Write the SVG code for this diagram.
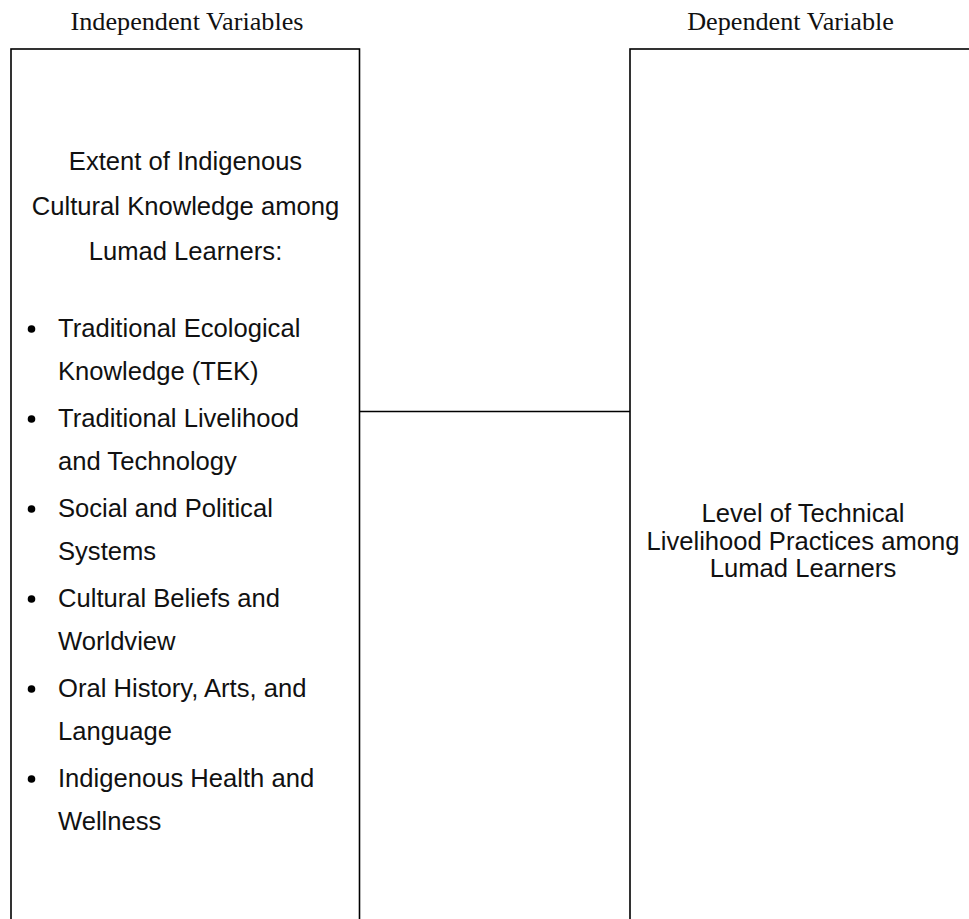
<svg xmlns="http://www.w3.org/2000/svg" width="969" height="919" viewBox="0 0 969 919">
<style>
.box{fill:#fff;stroke:#000;stroke-width:1.6}
.conn{stroke:#000;stroke-width:1.6;fill:none}
.title{font-family:"Liberation Serif","Times New Roman",serif;font-size:26.2px;fill:#111;text-anchor:middle}
.t{font-family:"Liberation Sans",Arial,sans-serif;font-size:25.6px;fill:#111}
.c{text-anchor:middle}
.dot{fill:#000}
</style>
<rect width="969" height="919" fill="#fff"/>
<text class="title" x="187" y="29.5">Independent Variables</text>
<text class="title" x="790.5" y="29.5">Dependent Variable</text>
<g id="connectors">
<line class="conn" x1="359.5" y1="411.5" x2="630" y2="411.5"/>
</g>
<g id="independent">
<rect class="box" x="11" y="49" width="348.5" height="900"/>
<text class="t c" x="185.5" y="169.5">Extent of Indigenous</text>
<text class="t c" x="185.5" y="214.8">Cultural Knowledge among</text>
<text class="t c" x="185.5" y="260">Lumad Learners:</text>
<circle class="dot" cx="31.5" cy="329" r="3.8"/>
<text class="t" x="58" y="336.7">Traditional Ecological</text>
<text class="t" x="58" y="380">Knowledge (TEK)</text>
<circle class="dot" cx="31.5" cy="419" r="3.8"/>
<text class="t" x="58" y="426.7">Traditional Livelihood</text>
<text class="t" x="58" y="470">and Technology</text>
<circle class="dot" cx="31.5" cy="509" r="3.8"/>
<text class="t" x="58" y="516.7">Social and Political</text>
<text class="t" x="58" y="560">Systems</text>
<circle class="dot" cx="31.5" cy="599" r="3.8"/>
<text class="t" x="58" y="606.7">Cultural Beliefs and</text>
<text class="t" x="58" y="650">Worldview</text>
<circle class="dot" cx="31.5" cy="689" r="3.8"/>
<text class="t" x="58" y="696.7">Oral History, Arts, and</text>
<text class="t" x="58" y="740">Language</text>
<circle class="dot" cx="31.5" cy="779" r="3.8"/>
<text class="t" x="58" y="786.7">Indigenous Health and</text>
<text class="t" x="58" y="830">Wellness</text>
</g>
<g id="dependent">
<rect class="box" x="630" y="49" width="400" height="900"/>
<text class="t c" x="803" y="522">Level of Technical</text>
<text class="t c" x="803" y="549.5">Livelihood Practices among</text>
<text class="t c" x="803" y="577">Lumad Learners</text>
</g>
</svg>
